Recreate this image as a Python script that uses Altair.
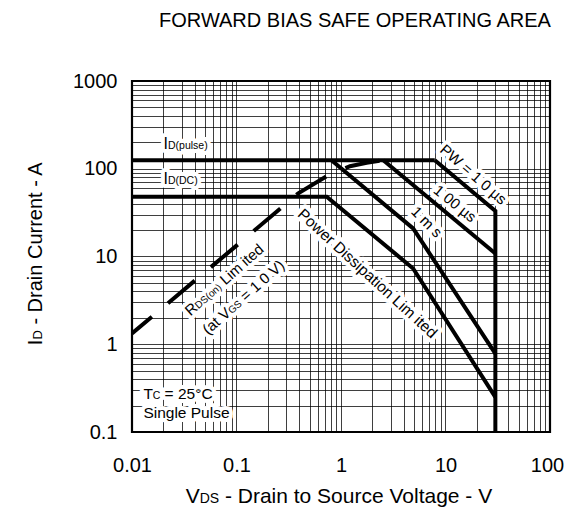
import altair as alt
import pandas as pd

FONT = "Liberation Sans"

# ---- data (V = drain-source voltage, I = drain current) ----
pulse_v = [0.01, 7.9]
pulse_i = [125, 125]
pw10us_v = [7.9, 30, 30]
pw10us_i = [125, 33, 0.1]
pw100us_v = [2.54, 30]
pw100us_i = [125, 10.8]
pw1ms_v = [0.81, 4.9, 30]
pw1ms_i = [125, 20.9, 0.78]
dc_v = [0.01, 0.73, 4.9, 30]
dc_i = [48, 48, 7.3, 0.25]
rds_v = [0.01, 0.1, 0.39, 0.75, 1.22, 1.76, 2.54]
rds_i = [1.33, 13.3, 52.5, 84, 107, 117, 125]

x_decades = [0.01, 0.1, 1, 10, 100]
y_decades = [0.1, 1, 10, 100, 1000]
x_labels = ["0.01", "0.1", "1", "10", "100"]
y_labels = ["0.1", "1", "10", "100", "1000"]

title_text = "FORWARD BIAS SAFE OPERATING AREA"

# ---- build tables ----
series = [
    ("pulse", pulse_v, pulse_i),
    ("pw10us", pw10us_v, pw10us_i),
    ("pw100us", pw100us_v, pw100us_i),
    ("pw1ms", pw1ms_v, pw1ms_i),
    ("dc", dc_v, dc_i),
]
rows = []
for name, vs, is_ in series:
    for k, (v, i) in enumerate(zip(vs, is_)):
        rows.append({"s": name, "o": k, "v": v, "i": i})
solid_df = pd.DataFrame(rows)
rds_df = pd.DataFrame({"v": rds_v, "i": rds_i, "o": list(range(len(rds_v)))})

x_grid = [m * d for d in x_decades[:-1] for m in range(1, 10)] + [x_decades[-1]]
y_grid = [m * d for d in y_decades[:-1] for m in range(1, 10)] + [y_decades[-1]]


def label_expr(decades, labels):
    parts = " : ".join(
        f"datum.value == {d} ? '{l}'" for d, l in zip(decades, labels)
    )
    return parts + " : ''"


axis_common = dict(
    title=None, ticks=False, domain=False, grid=True,
    gridColor="black", gridWidth=0.8, gridOpacity=0.95,
    labelFont=FONT, labelFontSize=20, labelColor="black",
    labelFlush=False, labelOverlap=False,
)

x_enc = alt.X(
    "v:Q",
    scale=alt.Scale(type="log", domain=[0.01, 100]),
    axis=alt.Axis(values=x_grid, labelExpr=label_expr(x_decades, x_labels),
                  labelPadding=23,
                  labelOffset={"condition": {"test": f"datum.value == {x_decades[-1]}",
                                             "value": -3}, "value": 0},
                  **axis_common),
)
y_enc = alt.Y(
    "i:Q",
    scale=alt.Scale(type="log", domain=[0.1, 1000]),
    axis=alt.Axis(values=y_grid, labelExpr=label_expr(y_decades, y_labels),
                  labelPadding=15, **axis_common),
)

# ---- annotations (text, x, y in data units, font size, angle, dx, dy, align, baseline) ----
annotations = [
    # I_D(pulse)
    ("I", 0.02, 167, 16, 0, 0, 0, "left", "alphabetic"),
    ("D(pulse)", 0.02, 167, 10.5, 0, 4.5, 0, "left", "alphabetic"),
    # I_D(DC)
    ("I", 0.02, 67.8, 16, 0, 0, 0, "left", "alphabetic"),
    ("D(DC)", 0.02, 67.8, 10.5, 0, 4.5, 0, "left", "alphabetic"),
    # Tc = 25 C
    ("T", 0.01285, 0.24, 15.5, 0, 0, 0, "left", "alphabetic"),
    ("C", 0.01285, 0.24, 10.5, 0, 9.3, 0, "left", "alphabetic"),
    ("= 25°C", 0.01285, 0.24, 15.5, 0, 21.2, 0, "left", "alphabetic"),
    ("Single Pulse", 0.01285, 0.1445, 15.5, 0, 0, 0, "left", "alphabetic"),
    # pulse widths
    ("PW = 1 0 µs", 18.5, 85.9, 15, 41, 0, 0, "center", "middle"),
    ("1 00 µs", 12.3, 40.1, 15, 39, 0, 0, "center", "middle"),
    ("1 m s", 6.6, 24.7, 15, 45, 0, 0, "center", "middle"),
    ("Power Dissipation Lim ited", 1.79, 6.38, 15.5, 42.5, 0, 0, "center", "middle"),
    # R_DS(on) Limited
    ("R", 0.0759, 5.47, 15, 318.5, -49.6, 5.4, "left", "alphabetic"),
    ("DS(on)", 0.0759, 5.47, 10, 318.5, -38.8, 5.4, "left", "alphabetic"),
    ("Lim ited", 0.0759, 5.47, 15, 318.5, -2.9, 5.4, "left", "alphabetic"),
    # (at V_GS = 10 V)
    ("(at V", 0.1156, 3.45, 15, 318.5, -51.6, 5.4, "left", "alphabetic"),
    ("GS", 0.1156, 3.45, 10, 318.5, -19.9, 5.4, "left", "alphabetic"),
    ("= 1 0 V)", 0.1156, 3.45, 15, 318.5, -1.2, 5.4, "left", "alphabetic"),
]

# titles (pixel positions relative to the plot area): text, x, y, size, angle, dx, align
title_pieces = [
    (title_text, 223, -54, 20, 0, 0, "center"),
    ("I", -90.3, 264.2, 20, 270, 0, "left"),
    ("D", -90.3, 264.2, 13, 270, 5.6, "left"),
    ("- Drain Current - A", -90.3, 264.2, 20, 270, 20.6, "left"),
    ("V", 53.7, 421.8, 21, 0, 0, "left"),
    ("DS", 53.7, 421.8, 14, 0, 14.0, "left"),
    ("- Drain to Source Voltage - V", 53.7, 421.8, 21, 0, 39.2, "left"),
]

halo_layers = []
text_layers = []
for txt, xv, yv, size, ang, dx, dy, al, bl in annotations:
    d = pd.DataFrame({"v": [xv], "i": [yv], "t": [txt]})
    common = dict(font=FONT, fontSize=size, angle=ang, dx=dx, dy=dy,
                  align=al, baseline=bl)
    enc = dict(x=x_enc, y=y_enc, text="t:N")
    halo_layers.append(
        alt.Chart(d).mark_text(color="white", stroke="white", strokeWidth=8,
                               strokeJoin="round", **common).encode(**enc)
    )
    text_layers.append(
        alt.Chart(d).mark_text(color="black", **common).encode(**enc)
    )

for txt, px, py, size, ang, dx, al in title_pieces:
    d = pd.DataFrame({"t": [txt]})
    text_layers.append(
        alt.Chart(d).mark_text(color="black", font=FONT, fontSize=size,
                               angle=ang, dx=dx, align=al,
                               baseline="alphabetic").encode(
            x=alt.value(px), y=alt.value(py), text="t:N")
    )

solid = alt.Chart(solid_df).mark_line(
    color="black", strokeWidth=4, clip=True, strokeJoin="miter"
).encode(x=x_enc, y=y_enc, detail="s:N", order="o:Q")

dashed = alt.Chart(rds_df).mark_line(
    color="black", strokeWidth=4, clip=True, strokeDash=[35, 21],
    strokeDashOffset=9
).encode(x=x_enc, y=y_enc, order="o:Q")

chart = alt.layer(*halo_layers, solid, dashed, *text_layers).properties(
    width=418,
    height=351,
    padding={"left": 124, "top": 73, "right": 15, "bottom": 76},
    autosize=alt.AutoSizeParams(type="none"),
).configure_view(stroke="black", strokeWidth=2.2)

chart.save("out.html", embed_options={"renderer": "svg", "actions": False})
